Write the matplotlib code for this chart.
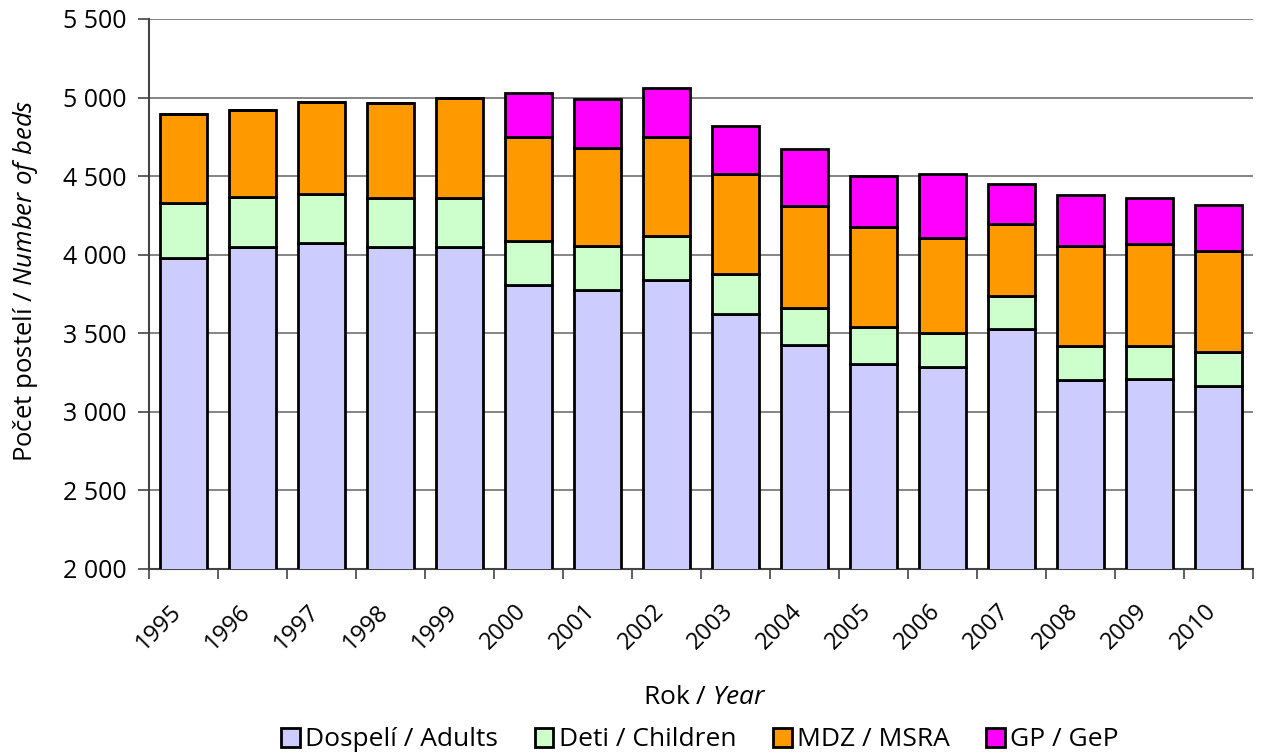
import matplotlib
matplotlib.use("Agg")
import matplotlib.pyplot as plt
import matplotlib.ticker as ticker
import matplotlib.transforms as mtransforms
import numpy as np

# ---------------------------------------------------------------------------
# Data
# ---------------------------------------------------------------------------
years = ["1995", "1996", "1997", "1998", "1999", "2000", "2001", "2002",
         "2003", "2004", "2005", "2006", "2007", "2008", "2009", "2010"]
adults = [3977, 4047, 4072, 4047, 4047, 3807, 3773, 3837,
          3622, 3426, 3307, 3288, 3526, 3201, 3207, 3165]
children = [349, 319, 313, 313, 313, 281, 285, 280,
            253, 232, 234, 216, 213, 215, 215, 213]
mdz = [572, 555, 589, 606, 636, 659, 623, 634,
       636, 651, 638, 605, 455, 642, 647, 646]
gp = [0, 0, 0, 0, 0, 285, 310, 308,
      310, 361, 323, 404, 257, 321, 293, 294]

series = [
    ("Dospelí / Adults", adults, "#CCCCFF"),
    ("Deti / Children", children, "#CCFFCC"),
    ("MDZ / MSRA", mdz, "#FF9900"),
    ("GP / GeP", gp, "#FF00FF"),
]

FONT = "Open Sans"
plt.rcParams["font.family"] = [FONT, "DejaVu Sans"]
plt.rcParams["mathtext.fontset"] = "custom"
plt.rcParams["mathtext.it"] = f"{FONT}:italic"
plt.rcParams["mathtext.rm"] = FONT

W, H = 1266, 756
fig = plt.figure(figsize=(W / 100, H / 100), dpi=100)
ax = fig.add_axes([149 / W, 1 - 569 / H, (1253 - 149) / W, 550 / H])

x = np.arange(len(years))
bottom = np.zeros(len(years))
handles = []
for label, vals, color in series:
    vals = np.array(vals, dtype=float)
    bars = ax.bar(x, vals, bottom=bottom, width=0.68, color=color,
                  edgecolor="black", linewidth=2, label=label, zorder=3)
    handles.append(bars)
    bottom += vals

# ── axes ───────────────────────────────────────────────────────────────────
ax.set_xlim(-0.5, len(years) - 0.5)
ax.set_ylim(2000, 5500)
ax.yaxis.set_major_locator(ticker.MultipleLocator(500))
ax.yaxis.set_major_formatter(ticker.FuncFormatter(
    lambda v, _: f"{int(v):,}".replace(",", " ")
))
ax.grid(axis="y", color="#707070", linewidth=1.2, zorder=0)

ax.set_xticks(x)
ax.xaxis.set_minor_locator(ticker.FixedLocator(np.arange(-0.5, len(years), 1)))
ax.tick_params(axis="x", which="major", length=0, pad=22)
ax.tick_params(axis="x", which="minor", length=7, width=1.2, color="#444444")
ax.tick_params(axis="y", length=8, width=1.2, color="#444444", labelsize=18, pad=8)
ax.set_xticklabels(years, rotation=45, ha="right", va="top",
                   rotation_mode="anchor", fontsize=17)
# nudge the rotated year labels left so they end under the bar centre
shift = mtransforms.ScaledTranslation(-14 / 100, 0, fig.dpi_scale_trans)
for lbl in ax.get_xticklabels():
    lbl.set_transform(lbl.get_transform() + shift)

for side in ["top", "right"]:
    ax.spines[side].set_visible(False)
for side in ["left", "bottom"]:
    ax.spines[side].set_color("#444444")
    ax.spines[side].set_linewidth(1.5)

# ── labels ─────────────────────────────────────────────────────────────────
fig.text(26 / W, 1 - 281 / H, r"Počet postelí / $\it{Number\ of\ beds}$",
         rotation=90, ha="center", va="center", fontsize=18.5)
fig.text(705 / W, 1 - 698 / H, r"Rok / $\it{Year}$",
         ha="center", va="center", fontsize=19)

fig.legend(handles=handles, labels=[s[0] for s in series],
           loc="center", bbox_to_anchor=(700 / W, 1 - 740 / H),
           ncol=4, frameon=False, fontsize=19,
           handlelength=0.7, handleheight=0.7, handletextpad=0.2,
           columnspacing=1.4, borderaxespad=0)

fig.savefig("out.png", dpi=100)
